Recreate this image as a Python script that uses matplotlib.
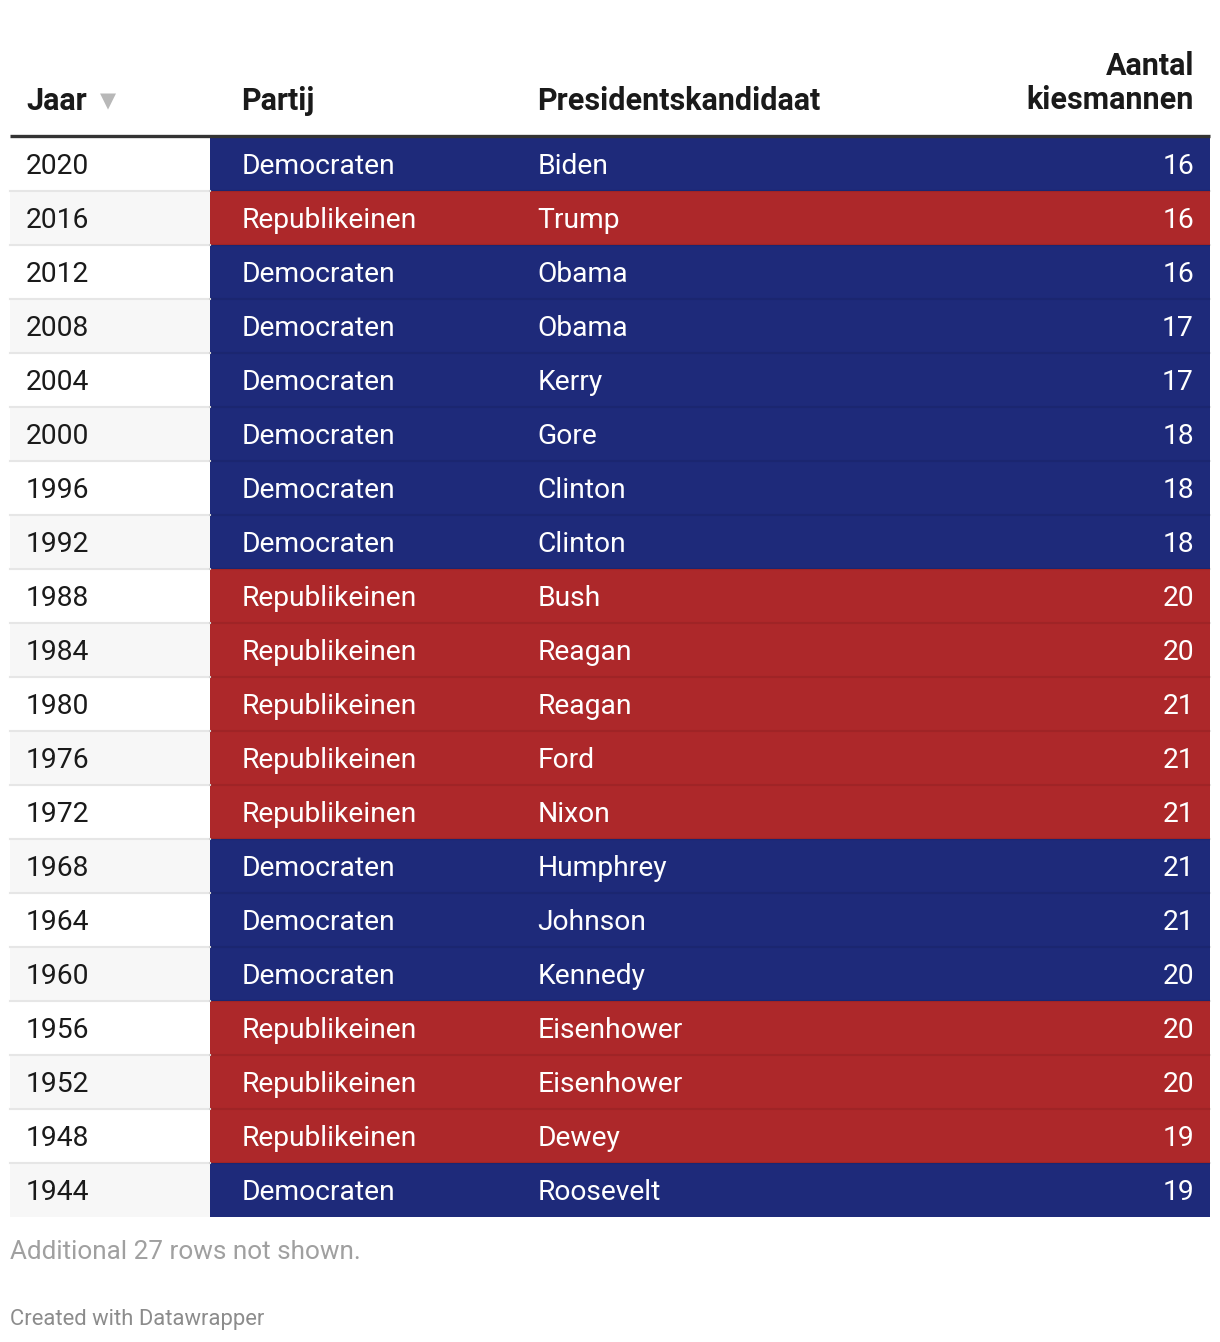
import matplotlib.pyplot as plt
import numpy as np

# table data
years = [2020, 2016, 2012, 2008, 2004, 2000, 1996, 1992, 1988, 1984,
         1980, 1976, 1972, 1968, 1964, 1960, 1956, 1952, 1948, 1944]
parties = ['Democraten', 'Republikeinen', 'Democraten', 'Democraten', 'Democraten',
           'Democraten', 'Democraten', 'Democraten', 'Republikeinen', 'Republikeinen',
           'Republikeinen', 'Republikeinen', 'Republikeinen', 'Democraten', 'Democraten',
           'Democraten', 'Republikeinen', 'Republikeinen', 'Republikeinen', 'Democraten']
candidates = ['Biden', 'Trump', 'Obama', 'Obama', 'Kerry', 'Gore', 'Clinton', 'Clinton',
              'Bush', 'Reagan', 'Reagan', 'Ford', 'Nixon', 'Humphrey', 'Johnson',
              'Kennedy', 'Eisenhower', 'Eisenhower', 'Dewey', 'Roosevelt']
electors = [16, 16, 16, 17, 17, 18, 18, 18, 20, 20, 21, 21, 21, 21, 21, 20, 20, 20, 19, 19]
headers = ['Jaar', 'Partij', 'Presidentskandidaat', 'Aantal\nkiesmannen']

party_colors = {'Democraten': '#1e2a7a', 'Republikeinen': '#ad282a'}

plt.rcParams['font.family'] = ['Roboto', 'DejaVu Sans']

W, H = 1220, 1342
fig = plt.figure(figsize=(W / 100, H / 100), dpi=100)
ax = fig.add_axes([0, 0, 1, 1])
ax.set_xlim(0, W)
ax.set_ylim(H, 0)
ax.axis('off')

# layout in pixels
left, split, right = 10, 210, 1210
top = 137
rh = 54
x_year, x_party, x_cand, x_num = 26, 241.5, 537.5, 1194
fs = 20.3
hfs = 22

# header
ax.text(x_year, 101, headers[0], fontsize=hfs, fontweight='bold', color='#1a1a1a', va='center')
ax.text(108, 101, '\u25BC', fontsize=15, color='#b8b8b8', va='center', ha='center',
        family=['DejaVu Sans'])
ax.text(x_party, 101, headers[1], fontsize=hfs, fontweight='bold', color='#1a1a1a', va='center')
ax.text(x_cand, 101, headers[2], fontsize=hfs, fontweight='bold', color='#1a1a1a', va='center')
ax.text(x_num, 83, headers[3], fontsize=hfs, fontweight='bold', color='#1a1a1a',
        va='center', ha='right', linespacing=1.15)
ax.plot([left, right], [top - 1.5, top - 1.5], color='#333333', lw=2.4, solid_capstyle='butt')

# rows
for i in range(len(years)):
    y0 = top + i * rh
    yc = y0 + rh / 2 + 2.5
    bg = '#f7f7f7' if i % 2 == 1 else 'white'
    ax.add_patch(plt.Rectangle((left, y0), split - left, rh, color=bg, lw=0))
    ax.add_patch(plt.Rectangle((split, y0), right - split, rh,
                               color=party_colors[parties[i]], lw=0))
    if i > 0:
        ax.plot([left, split], [y0, y0], color='#e6e6e6', lw=1.5)
        ax.plot([split, right], [y0, y0], color='black', alpha=0.08, lw=1.5)
    ax.text(x_year, yc, str(years[i]), fontsize=fs, color='#1a1a1a', va='center')
    ax.text(x_party, yc, parties[i], fontsize=fs, color='white', va='center')
    ax.text(x_cand, yc, candidates[i], fontsize=fs, color='white', va='center')
    ax.text(x_num, yc, str(electors[i]), fontsize=fs, color='white', va='center', ha='right')

# footer
ax.text(10, 1252, 'Additional 27 rows not shown.', fontsize=18.8, color='#a0a0a0', va='center')
ax.text(10, 1319, 'Created with Datawrapper', fontsize=15.8, color='#8c8c8c', va='center')

fig.savefig('out.png', dpi=100)
